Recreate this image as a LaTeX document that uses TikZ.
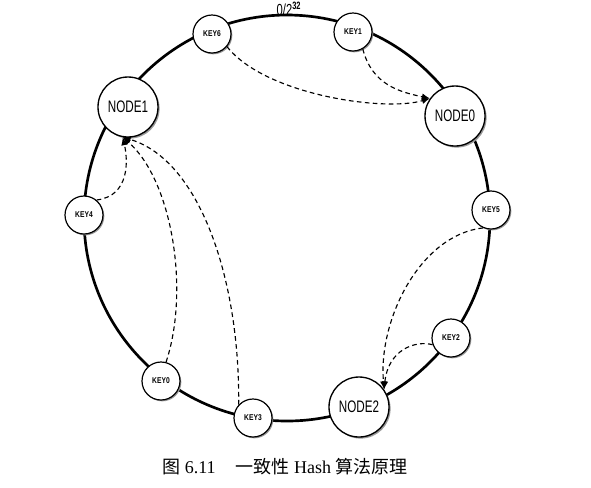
\documentclass[tikz,border=0pt]{standalone}
\usepackage{fontspec}
\usepackage{amsmath}
\usetikzlibrary{arrows.meta}
\setmainfont{Liberation Serif}
\newfontfamily\cjk{Noto Sans CJK SC}
\newfontfamily\narrowsans[FakeStretch=0.7]{Liberation Sans}
\newfontfamily\keysans[FakeStretch=0.8]{Liberation Sans}

\begin{document}
\begin{tikzpicture}[x=0.75pt,y=0.75pt,yscale=-1,xscale=1,
  ring/.style={line width=2pt},
  hashnode/.style={circle,draw,line width=1pt,fill=white,inner sep=0pt,minimum size=45pt,
    font=\narrowsans\fontsize{12.5}{14}\selectfont,
    preaction={fill=black!40,transform canvas={xshift=1.2pt,yshift=-1.2pt}}},
  keynode/.style={circle,draw,line width=0.9pt,fill=white,inner sep=0pt,minimum size=28.5pt,
    font=\keysans\bfseries\fontsize{6.3}{7}\selectfont,
    preaction={fill=black!40,transform canvas={xshift=1pt,yshift=-1pt}}},
  hashlink/.style={dash pattern=on 3.5pt off 2.5pt,line width=0.85pt,-{Latex[length=6pt,width=5pt]}}]
\useasboundingbox (0,0) rectangle (591,487);

%Shape: Circle (hash ring)
\coordinate (ringc) at (287,218);
\draw [ring] (ringc) circle (203);

% Text Node
\draw (289,9) node [font=\narrowsans\fontsize{12}{14}\selectfont] (zero) {0/2\textsuperscript{\bfseries 32}};

%Shape: Nodes on the ring
\draw (128,107) node [hashnode] (node1) {NODE1};
\draw (455,116) node [hashnode] (node0) {NODE0};
\draw (359,407) node [hashnode] (node2) {NODE2};

%Shape: Keys on the ring
\draw (212,34) node [keynode] (key6) {KEY6};
\draw (353,32) node [keynode] (key1) {KEY1};
\draw (491,210) node [keynode] (key5) {KEY5};
\draw (451,338) node [keynode] (key2) {KEY2};
\draw (253,418) node [keynode] (key3) {KEY3};
\draw (161,381) node [keynode] (key0) {KEY0};
\draw (84,215) node [keynode] (key4) {KEY4};

%Curve Lines
\draw [hashlink] (key6.-40) .. controls (265,95) and (385,112) .. (node0.145);
\draw [hashlink] (key1.-60) .. controls (372,85) and (400,92) .. (node0.145);
\draw [hashlink] (key4.50) .. controls (130,196) and (128,160) .. (node1.-100);
\draw [hashlink] (key0.75) .. controls (190,290) and (172,180) .. (node1.-100);
\draw [hashlink] (key3.137) .. controls (240,280) and (200,160) .. (node1.-100);
\draw [hashlink] (key5.-114) .. controls (420,235) and (378,320) .. (node2.35);
\draw [hashlink] (key2.-160) .. controls (415,340) and (388,350) .. (node2.35);

% Text Node
\draw (285,467) node [font=\fontsize{13.5}{16}\selectfont] (caption) {{\cjk 图} 6.11\hspace{15pt}{\cjk 一致性} Hash {\cjk 算法原理}};

\end{tikzpicture}
\end{document}
